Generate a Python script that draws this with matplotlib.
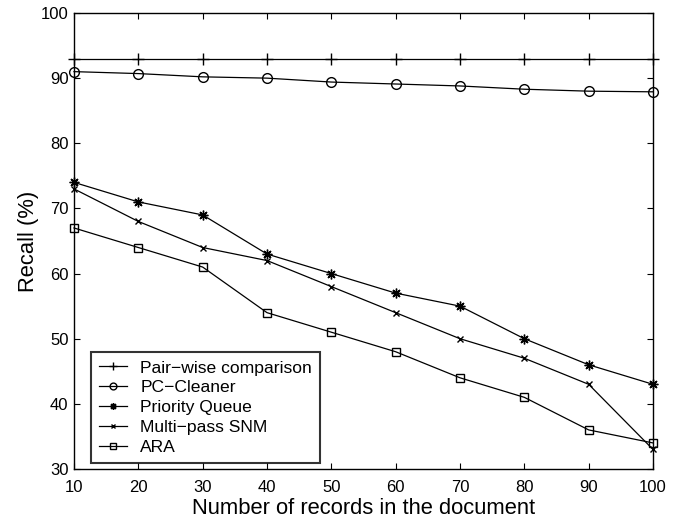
import numpy as np
import matplotlib
matplotlib.use('Agg')
import matplotlib.pyplot as plt

plt.rcParams['font.family'] = ['Liberation Sans', 'DejaVu Sans']

records = [10, 20, 30, 40, 50, 60, 70, 80, 90, 100]
pairwise = [93, 93, 93, 93, 93, 93, 93, 93, 93, 93]
pc_cleaner = [91, 90.7, 90.2, 90.0, 89.4, 89.1, 88.8, 88.3, 88.0, 87.9]
priority_queue = [74, 71, 69, 63, 60, 57, 55, 50, 46, 43]
multi_pass = [73, 68, 64, 62, 58, 54, 50, 47, 43, 33]
ara = [67, 64, 61, 54, 51, 48, 44, 41, 36, 34]

labels = ['Pair\u2212wise comparison', 'PC\u2212Cleaner', 'Priority Queue',
          'Multi\u2212pass SNM', 'ARA']

fig = plt.figure(figsize=(6.83, 5.19), dpi=100)
ax = fig.add_axes([74/683, 1-469/519, (653-74)/683, (469-13)/519])

kw = dict(color='k', linewidth=0.9, clip_on=False)
ax.plot(records, pairwise, marker='+', markersize=8, label=labels[0], **kw)
ax.plot(records, pc_cleaner, marker='o', markersize=7, markerfacecolor='none', label=labels[1], **kw)
ax.plot(records, priority_queue, marker=(8, 2, 0), markersize=7, label=labels[2], **kw)
ax.plot(records, multi_pass, marker='x', markersize=5, label=labels[3], **kw)
ax.plot(records, ara, marker='s', markersize=6, markerfacecolor='none', label=labels[4], **kw)

ax.set_xlim(10, 100)
ax.set_ylim(30, 100)
ax.set_xticks(records)
ax.set_yticks(range(30, 101, 10))
ax.tick_params(direction='in', top=True, right=True, labelsize=12, length=4)
ax.tick_params(axis='x', pad=8)
ax.tick_params(axis='y', pad=4)
for s in ax.spines.values():
    s.set_linewidth(1.0)

ax.set_xlabel('Number of records in the document', fontsize=15.8, labelpad=2)
ax.set_ylabel('Recall (%)', fontsize=15.8, labelpad=1)

leg = ax.legend(loc='lower left', bbox_to_anchor=(0.03, 0.014), fontsize=12.6,
                frameon=True, fancybox=False, edgecolor='k', handlelength=1.6,
                borderpad=0.45, labelspacing=0.26, handletextpad=0.75,
                markerscale=0.7, borderaxespad=0)
leg.get_frame().set_linewidth(1.5)

fig.savefig('out.png', dpi=100)
